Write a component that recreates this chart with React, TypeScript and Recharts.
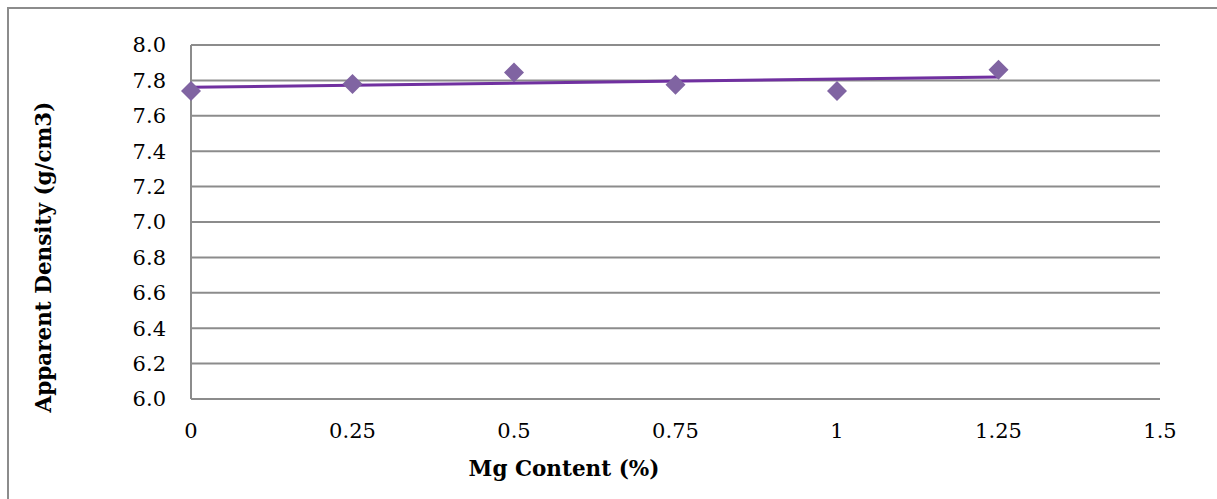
import {
  CartesianGrid,
  ComposedChart,
  Label,
  Line,
  Scatter,
  XAxis,
  YAxis,
} from "recharts";

const mgContent = [0, 0.25, 0.5, 0.75, 1, 1.25];
const apparentDensity = [7.74, 7.78, 7.845, 7.775, 7.74, 7.86];

const xTicks = [0, 0.25, 0.5, 0.75, 1, 1.25, 1.5];
const yTicks = [6.0, 6.2, 6.4, 6.6, 6.8, 7.0, 7.2, 7.4, 7.6, 7.8, 8.0];

const points = mgContent.map((x, i) => ({ x, y: apparentDensity[i] }));

// least-squares linear trendline through the measured points
function linearFit(xs: number[], ys: number[]) {
  const n = xs.length;
  const mx = xs.reduce((a, b) => a + b, 0) / n;
  const my = ys.reduce((a, b) => a + b, 0) / n;
  let sxy = 0;
  let sxx = 0;
  xs.forEach((x, i) => {
    sxy += (x - mx) * (ys[i] - my);
    sxx += (x - mx) * (x - mx);
  });
  const slope = sxy / sxx;
  return { slope, intercept: my - slope * mx };
}

const fit = linearFit(mgContent, apparentDensity);
const trend = [mgContent[0], mgContent[mgContent.length - 1]].map((x) => ({
  x,
  y: fit.intercept + fit.slope * x,
}));

const FONT = "'DejaVu Serif', serif";
const GRID = "#8c8c8c";
const MARKER = "#8064a2";
const TREND = "#7030a0";

function Diamond(props: any) {
  const { cx, cy } = props;
  const r = 10;
  return (
    <polygon
      points={`${cx},${cy - r} ${cx + r},${cy} ${cx},${cy + r} ${cx - r},${cy}`}
      fill={MARKER}
    />
  );
}

export default function App() {
  return (
    <div
      style={{
        position: "absolute",
        left: 7,
        top: 7,
        width: 1220,
        height: 500,
        borderTop: `2px solid ${GRID}`,
        borderLeft: `2px solid ${GRID}`,
        boxSizing: "border-box",
        background: "#fff",
      }}
    >
      <ComposedChart
        width={1209}
        height={491}
        margin={{ top: 36, right: 58, left: 0, bottom: 0 }}
        style={{ fontFamily: FONT }}
      >
        <CartesianGrid vertical={false} stroke={GRID} strokeWidth={2} />
        <XAxis
          type="number"
          dataKey="x"
          domain={[0, 1.5]}
          ticks={xTicks}
          height={101}
          stroke={GRID}
          strokeWidth={2}
          tickLine={false}
          tickMargin={18}
          tick={{ fill: "#000", fontSize: 21, fontFamily: FONT }}
        >
          <Label
            content={() => (
              <text
                x={555}
                y={467}
                textAnchor="middle"
                fontFamily={FONT}
                fontWeight="bold"
                fontSize={21.5}
                fill="#000"
              >
                Mg Content (%)
              </text>
            )}
          />
        </XAxis>
        <YAxis
          type="number"
          domain={[6, 8]}
          ticks={yTicks}
          width={182}
          stroke={GRID}
          strokeWidth={2}
          tickLine={false}
          tickMargin={19}
          tickFormatter={(v: number) => v.toFixed(1)}
          tick={{ fill: "#000", fontSize: 21, fontFamily: FONT }}
        >
          <Label
            content={() => (
              <text
                x={42}
                y={248}
                textAnchor="middle"
                transform="rotate(-90 42 248)"
                fontFamily={FONT}
                fontWeight="bold"
                fontSize={21.5}
                fill="#000"
              >
                Apparent Density (g/cm3)
              </text>
            )}
          />
        </YAxis>
        <Scatter
          data={points}
          dataKey="y"
          shape={<Diamond />}
          isAnimationActive={false}
        />
        <Line
          data={trend}
          dataKey="y"
          stroke={TREND}
          strokeWidth={3}
          dot={false}
          activeDot={false}
          isAnimationActive={false}
        />
      </ComposedChart>
    </div>
  );
}
